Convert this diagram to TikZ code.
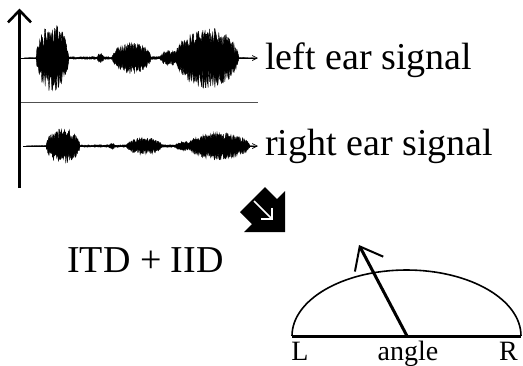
\documentclass[tikz,border=0pt]{standalone}
\usepackage{fontspec}
\setmainfont{Liberation Serif}
\usetikzlibrary{arrows.meta}
\definecolor{sepgray}{HTML}{505050}

\begin{document}
\begin{tikzpicture}[x=1pt,y=-1pt,
 axis/.style={line width=3pt,-{Straight Barb[length=12pt,width=23pt,line width=2.6pt]}},
 sig/.style={line width=1pt,-{Straight Barb[length=5pt,width=5pt,line width=0.7pt]}},
 wave/.style={line width=0.3pt},
 pointer/.style={line width=3pt,-{Straight Barb[length=20pt,width=32pt,line width=2pt]}},
 biglbl/.style={font=\fontsize{38}{40}\selectfont,anchor=base west,inner sep=0pt},
 ticklbl/.style={font=\fontsize{28}{30}\selectfont,anchor=base,inner sep=0pt}
]
\fill[white] (0,0) rectangle (523,365);
\useasboundingbox (0,0) rectangle (523,365);
\pgfmathsetseed{11}

\draw[axis] (19.5,188) -- (19.5,8.5);
\draw[sepgray,line width=1pt] (21,102) -- (258,102);

\draw[sig] (21,58) -- (258,58);
\foreach \xa/\xb/\amp/\n in {24/255/1.6/300,36/69/34/80,97/104/5/12,112/151/16/90,160/180/8/40,175/239/31/150}
  \filldraw[wave] plot[domain=\xa:\xb,samples=\n]
    (\x,{58-\amp*(0.4+0.6*rnd)*sqrt(abs(sin(180/(\xb-\xa)*(\x-\xa))))})
    -- plot[domain=\xb:\xa,samples=\n]
    (\x,{58+\amp*(0.4+0.6*rnd)*sqrt(abs(sin(180/(\xb-\xa)*(\x-\xa))))}) -- cycle;

\draw[sig] (23,146) -- (258,146);
\foreach \xa/\xb/\amp/\n in {26/255/1.4/300,46/80/18/80,109/115/4/12,126/162/9/80,175/192/5/36,187/250/14/150}
  \filldraw[wave] plot[domain=\xa:\xb,samples=\n]
    (\x,{146-\amp*(0.4+0.6*rnd)*sqrt(abs(sin(180/(\xb-\xa)*(\x-\xa))))})
    -- plot[domain=\xb:\xa,samples=\n]
    (\x,{146+\amp*(0.4+0.6*rnd)*sqrt(abs(sin(180/(\xb-\xa)*(\x-\xa))))}) -- cycle;

\node[biglbl] (left) at (265,69) {left ear signal};
\node[biglbl] (right) at (265,155) {right ear signal};
\node[biglbl] (cues) at (67,272) {ITD + IID};

\begin{scope}[shift={(285,232)}]
\fill (0,0) -- (0,-41) -- (-8,-33) -- (-20,-45) -- (-45,-20) -- (-33,-8) -- (-41,0) -- cycle;
\draw[white,line width=1.6pt,-{Straight Barb[length=8pt,width=16pt,line width=1.6pt]}] (-31,-31) -- (-12,-12);
\end{scope}

\coordinate (lend) at (292,336);
\coordinate (rend) at (521,336);
\coordinate (ctr) at (407,336);
\coordinate (dir) at (359,245);
\draw[line width=1.6pt] (lend) arc[start angle=180,end angle=0,x radius=114.5pt,y radius=66pt];
\draw[line width=3pt] (lend) -- (rend);
\draw[pointer] (ctr) -- (dir);

\node[ticklbl] (lL) at (300,360) {L};
\node[ticklbl] (lang) at (408,360) {angle};
\node[ticklbl] (lR) at (508.5,360) {R};
\end{tikzpicture}
\end{document}
